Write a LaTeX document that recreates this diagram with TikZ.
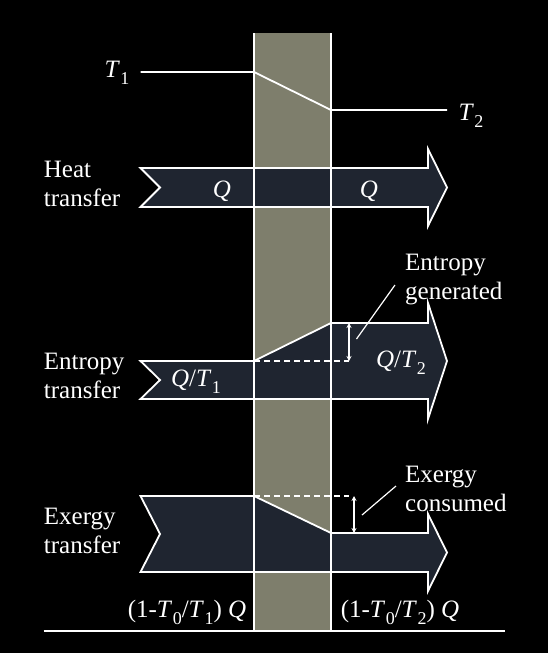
\documentclass[tikz,border=0pt]{standalone}
\usepackage{fontspec}
\setmainfont{Liberation Serif}
\usetikzlibrary{arrows.meta}
\definecolor{wallc}{HTML}{7E7E6C}
\definecolor{flowc}{HTML}{1F2530}
\newcommand{\Tsub}[1]{\textit{T}\kern0.5pt\raisebox{-0.28em}{\fontsize{18}{20}\selectfont #1}}
\begin{document}
\begin{tikzpicture}[x=1pt,y=-1pt,
  txt/.style={text=white,inner sep=0pt,font=\fontsize{25}{29}\selectfont},
  lbl/.style={txt,align=left,anchor=base west},
  wline/.style={draw=white,line width=1.8pt},
  flow/.style={fill=flowc,draw=white,line width=1.8pt,line join=miter},
  dashline/.style={draw=white,line width=1.6pt,dash pattern=on 6pt off 4pt},
  dim/.style={draw=white,line width=1.2pt,{Stealth[length=5pt,width=5pt]}-{Stealth[length=5pt,width=5pt]}},
  leader/.style={draw=white,line width=1.2pt}]
\fill[black] (0,0) rectangle (548,653);
\useasboundingbox (0,0) rectangle (548,653);
% wall
\coordinate (wtl) at (254,33);
\coordinate (wbl) at (254,630);
\coordinate (wtr) at (331,33);
\coordinate (wbr) at (331,630);
\fill[wallc] (wtl) rectangle (wbr);
% temperature profile
\coordinate (t1s) at (140.5,72);
\coordinate (t1w) at (254,72);
\coordinate (t2w) at (331,110);
\coordinate (t2e) at (447,110);
\draw[wline] (t1s) -- (t1w) -- (t2w) -- (t2e);
\node[txt,anchor=base] (T1) at (117,77) {\Tsub{1}};
\node[txt,anchor=base] (T2) at (471,120) {\Tsub{2}};
% heat arrow
\draw[flow] (140.5,168) -- (428,168) -- (428,149) -- (447,187.5) -- (428,226) -- (428,207) -- (140.5,207) -- (160,187.5) -- cycle;
% entropy arrow
\draw[flow] (140.5,361) -- (254,361) -- (331,323) -- (428,323) -- (428,303) -- (447,361) -- (428,419) -- (428,399) -- (140.5,399) -- (160,380) -- cycle;
% exergy arrow
\draw[flow] (140.5,496) -- (254,496) -- (331,533) -- (428,533) -- (428,514) -- (447,552.5) -- (428,591) -- (428,572) -- (140.5,572) -- (160,534) -- cycle;
% wall edges
\draw[wline] (wtl) -- (wbl);
\draw[wline] (wtr) -- (wbr);
% bottom line
\coordinate (bl) at (43.7,631);
\coordinate (br) at (505,631);
\draw[wline] (bl) -- (br);
% entropy generated
\coordinate (sd1) at (254,361);
\coordinate (sd2) at (349,361);
\coordinate (sa1) at (349,323);
\draw[dashline] (sd1) -- (sd2);
\draw[dim] (sa1) -- (sd2);
\node[lbl] (sgen) at (405,299) {Entropy\\generated};
\coordinate (sl1) at (356.5,339);
\coordinate (sl2) at (395,285);
\draw[leader] (sl1) -- (sl2);
% exergy consumed
\coordinate (xd1) at (254,496);
\coordinate (xd2) at (349,496);
\coordinate (xa1) at (354,496);
\coordinate (xa2) at (354,533);
\draw[dashline] (xd1) -- (xd2);
\draw[dim] (xa1) -- (xa2);
\node[lbl] (xcon) at (405,511) {Exergy\\consumed};
\coordinate (xl1) at (362,515);
\coordinate (xl2) at (396,486);
\draw[leader] (xl1) -- (xl2);
% left labels
\node[lbl] (heat) at (43.7,206) {Heat\\transfer};
\node[lbl] (ent) at (43.7,398) {Entropy\\transfer};
\node[lbl] (exg) at (43.7,553) {Exergy\\transfer};
% flow labels
\node[txt,anchor=base] (q1) at (222,197) {\textit{Q}};
\node[txt,anchor=base] (q2) at (369,197) {\textit{Q}};
\node[txt,anchor=base] (qt1) at (196,386) {\textit{Q}/\Tsub{1}};
\node[txt,anchor=base] (qt2) at (401,367) {\textit{Q}/\Tsub{2}};
\node[txt,anchor=base] (ex1) at (187,617) {(1-\Tsub{0}/\Tsub{1}) \textit{Q}};
\node[txt,anchor=base] (ex2) at (400,617) {(1-\Tsub{0}/\Tsub{2}) \textit{Q}};
\end{tikzpicture}
\end{document}
